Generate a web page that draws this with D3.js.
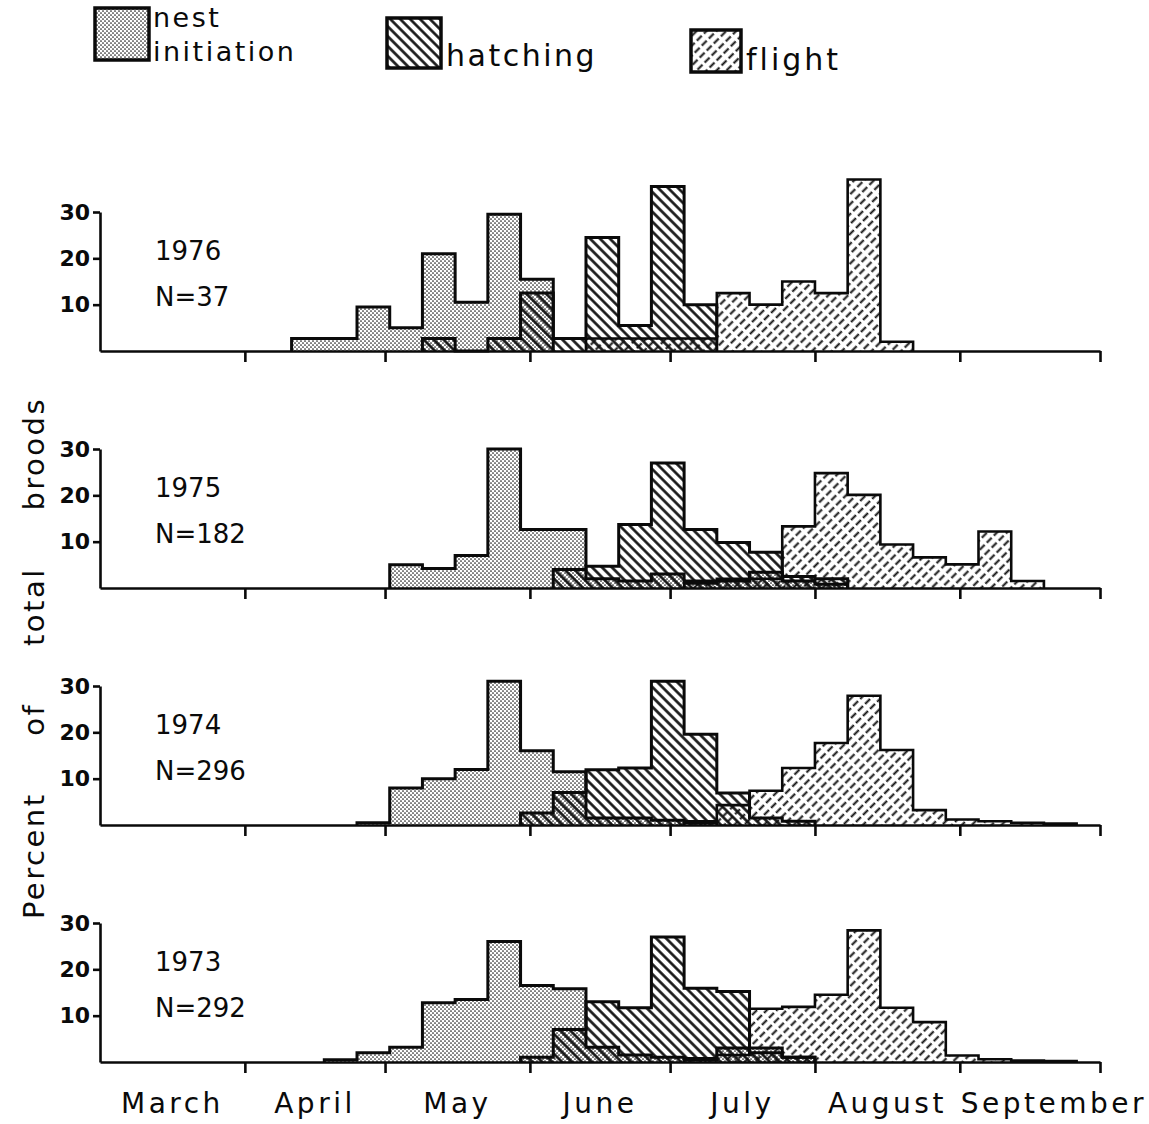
<!DOCTYPE html>
<html>
<head>
<meta charset="utf-8">
<script src="https://cdn.jsdelivr.net/npm/d3@7"></script>
<style>
  html, body { margin: 0; padding: 0; background: #ffffff; }
  svg { display: block; }
</style>
</head>
<body>
<svg id="chart" width="1149" height="1124"></svg>
<script>
// ---- data -------------------------------------------------------------
const months = ["March", "April", "May", "June", "July", "August", "September"];
const monthStarts = ["03-01", "04-01", "05-01", "06-01", "07-01", "08-01", "09-01", "10-01"];

// weekly bins (start date of each week)
const weekStarts = [
  "03-21", "03-28", "04-04", "04-11", "04-18", "04-25", "05-02", "05-09",
  "05-16", "05-23", "05-30", "06-06", "06-13", "06-20", "06-27", "07-04",
  "07-11", "07-18", "07-25", "08-01", "08-08", "08-15", "08-22", "08-29",
  "09-05", "09-12", "09-19", "09-26"
];

const years = ["1976", "1975", "1974", "1973"];
const broodCounts = [37, 182, 296, 292];
const seriesNames = ["nest initiation", "hatching", "flight"];
const yTicks = [10, 20, 30];

// percent of total broods per week
const nest1976   = [0,0,0,2.7,2.7,9.5,5,21,10.5,29.5,15.5,0,0,0,0,0,0,0,0,0,0,0,0,0,0,0,0,0];
const hatch1976  = [0,0,0,0,0,0,0,2.7,0,2.7,12.5,2.7,24.5,5.5,35.5,10,0,0,0,0,0,0,0,0,0,0,0,0];
const flight1976 = [0,0,0,0,0,0,0,0,0,0,0,0,2.7,2.7,2.7,2.7,12.5,10,15,12.5,37,2,0,0,0,0,0,0];

const nest1975   = [0,0,0,0,0,0,5,4.2,7,30,12.6,12.6,2,1.5,3,1.5,1.5,3.4,1.5,0.8,0,0,0,0,0,0,0,0];
const hatch1975  = [0,0,0,0,0,0,0,0,0,0,0,4,4.7,13.7,27,12.6,9.8,7.7,2.5,2,0,0,0,0,0,0,0,0];
const flight1975 = [0,0,0,0,0,0,0,0,0,0,0,0,0,0,0,1,2,2,13.3,24.8,20.1,9.4,6.6,5.1,12.2,1.5,0,0];

const nest1974   = [0,0,0,0,0,0.5,8,10,12,31,16,11.5,1.5,1.5,1,0.5,0,0,0,0,0,0,0,0,0,0,0,0];
const hatch1974  = [0,0,0,0,0,0,0,0,0,0,2.6,7,11.9,12.3,31,19.6,6.9,1.5,0.8,0,0,0,0,0,0,0,0,0];
const flight1974 = [0,0,0,0,0,0,0,0,0,0,0,0,0,0,0,0.8,4.3,7.4,12.3,17.7,27.9,16.2,3.2,1.2,0.8,0.5,0.3,0];

const nest1973   = [0,0,0,0,0.5,2,3.2,12.8,13.5,26,16.5,15.8,3.2,1.5,1,0.5,3,3,1,0,0,0,0,0,0,0,0,0];
const hatch1973  = [0,0,0,0,0,0,0,0,0,0,1,7,13,11.7,27,15.9,15.2,2,1,0,0,0,0,0,0,0,0,0];
const flight1973 = [0,0,0,0,0,0,0,0,0,0,0,0,0,0,0,0.8,1.5,11.5,11.9,14.5,28.4,11.7,8.6,1.4,0.6,0.3,0.2,0];

const panels = [
  { year: years[0], n: broodCounts[0], series: [nest1976, hatch1976, flight1976] },
  { year: years[1], n: broodCounts[1], series: [nest1975, hatch1975, flight1975] },
  { year: years[2], n: broodCounts[2], series: [nest1974, hatch1974, flight1974] },
  { year: years[3], n: broodCounts[3], series: [nest1973, hatch1973, flight1973] }
];

// ---- helpers ----------------------------------------------------------
const season0 = new Date(1975, 2, 1);
function dayOf(mmdd) {
  const [m, d] = mmdd.split("-").map(Number);
  return d3.timeDay.count(season0, new Date(1975, m - 1, d));
}
const monthDays = monthStarts.map(dayOf);
const weekDays = weekStarts.map(dayOf);
const binWidth = 7;

// ---- layout -----------------------------------------------------------
const svg = d3.select("#chart");
const W = 1149, H = 1124;
const left = 100, right = 1100;
const panelTop0 = 212, panelStep = 237, panelH = 139;

const x = d3.scaleLinear()
  .domain([monthDays[0], monthDays[monthDays.length - 1]])
  .range([left, right]);

svg.append("rect").attr("width", W).attr("height", H).attr("fill", "#ffffff");

// ---- fill patterns ----------------------------------------------------
const defs = svg.append("defs");
const patternIds = ["stipple", "hatchBack", "hatchFwd"];

const pStip = defs.append("pattern")
  .attr("id", patternIds[0])
  .attr("patternUnits", "userSpaceOnUse")
  .attr("width", 4).attr("height", 4);
[[1, 1], [3, 3]].forEach(([cx, cy]) =>
  pStip.append("circle").attr("cx", cx).attr("cy", cy).attr("r", 0.85).attr("fill", "#1b1b1b"));

const pBack = defs.append("pattern")
  .attr("id", patternIds[1])
  .attr("patternUnits", "userSpaceOnUse")
  .attr("width", 7).attr("height", 7)
  .attr("patternTransform", "rotate(-45)");
pBack.append("line")
  .attr("x1", 3.5).attr("y1", 0).attr("x2", 3.5).attr("y2", 7)
  .attr("stroke", "#111").attr("stroke-width", 2.6);

const pFwd = defs.append("pattern")
  .attr("id", patternIds[2])
  .attr("patternUnits", "userSpaceOnUse")
  .attr("width", 7).attr("height", 10)
  .attr("patternTransform", "rotate(45)");
pFwd.append("line")
  .attr("x1", 3.5).attr("y1", 0).attr("x2", 3.5).attr("y2", 10)
  .attr("stroke", "#111").attr("stroke-width", 2)
  .attr("stroke-dasharray", "6 3");

// ---- panels -----------------------------------------------------------
const fontMain = "'DejaVu Sans', 'Noto Sans', sans-serif";

panels.forEach((p, i) => {
  const top = panelTop0 + i * panelStep;
  const y = d3.scaleLinear().domain([0, 30]).range([top + panelH, top]);
  const g = svg.append("g");

  const areaGen = d3.area()
    .x(d => x(d[0])).y0(y(0)).y1(d => y(d[1]))
    .curve(d3.curveStepAfter);
  const lineGen = d3.line()
    .x(d => x(d[0])).y(d => y(d[1]))
    .curve(d3.curveStepAfter);

  const shapes = p.series.map(vals => {
    const idx = vals.map((v, k) => (v > 0 ? k : -1)).filter(k => k >= 0);
    const first = idx[0], last = idx[idx.length - 1];
    const pts = [];
    for (let k = first; k <= last; k++) pts.push([weekDays[k], vals[k]]);
    pts.push([weekDays[last] + binWidth, vals[last]]);
    const outline = [[weekDays[first], 0], ...pts, [weekDays[last] + binWidth, 0]];
    return { pts, outline };
  });

  // pattern fills first, so the outlines stay on top
  shapes.forEach((s, k) => {
    g.append("path")
      .attr("d", areaGen(s.pts))
      .attr("fill", `url(#${patternIds[k]})`)
      .attr("stroke", "none");
  });
  shapes.forEach((s, k) => {
    g.append("path")
      .attr("d", lineGen(s.outline))
      .attr("fill", "none")
      .attr("stroke", "#0a0a0a")
      .attr("stroke-width", k === 2 ? 2.6 : 3)
      .attr("stroke-linejoin", "miter");
  });

  // x axis: month boundaries
  const xAxis = d3.axisBottom(x)
    .tickValues(monthDays.slice(1))
    .tickSize(11).tickSizeOuter(0)
    .tickFormat("");
  const gx = g.append("g")
    .attr("transform", `translate(0,${y(0)})`)
    .call(xAxis);
  gx.selectAll("path, line").attr("stroke", "#0a0a0a").attr("stroke-width", 2.6);

  // y axis
  const yAxis = d3.axisLeft(y)
    .tickValues(yTicks)
    .tickSize(7).tickSizeOuter(0).tickPadding(3);
  const gy = g.append("g")
    .attr("transform", `translate(${left},0)`)
    .call(yAxis);
  gy.selectAll("path, line").attr("stroke", "#0a0a0a").attr("stroke-width", 2.6);
  gy.selectAll("text")
    .attr("font-family", fontMain)
    .attr("font-weight", "bold")
    .attr("font-size", 22)
    .attr("fill", "#0a0a0a");

  // year and sample size
  g.append("text")
    .attr("x", 155).attr("y", top + 48)
    .attr("font-family", fontMain).attr("font-size", 26)
    .attr("fill", "#0a0a0a")
    .text(p.year);
  g.append("text")
    .attr("x", 155).attr("y", top + 94)
    .attr("font-family", fontMain).attr("font-size", 26)
    .attr("fill", "#0a0a0a")
    .text(`N=${p.n}`);
});

// ---- month labels under the bottom panel ------------------------------
const monthLabelY = 1113;
months.forEach((m, k) => {
  const t = svg.append("text")
    .attr("y", monthLabelY)
    .attr("font-family", fontMain)
    .attr("font-size", 28)
    .attr("letter-spacing", 3.5)
    .attr("text-anchor", "middle")
    .attr("fill", "#0a0a0a")
    .text(m);
  const w = t.node().getComputedTextLength();
  const x0 = x(monthDays[k]), x1 = x(monthDays[k + 1]);
  const cx = Math.max((x0 + x1) / 2, x0 + w / 2 + 1);
  t.attr("x", cx);
});

// ---- y title -----------------------------------------------------------
svg.append("text")
  .attr("transform", "translate(44,658) rotate(-90)")
  .attr("text-anchor", "middle")
  .attr("font-family", fontMain)
  .attr("font-size", 29)
  .attr("letter-spacing", 2.5)
  .attr("word-spacing", 45)
  .attr("fill", "#0a0a0a")
  .text("Percent of total broods");

// ---- legend -------------------------------------------------------------
const legendItems = [
  { box: [95, 8, 54, 52], lines: ["nest", "initiation"], tx: 153, ty: [27, 61], size: 27, spacing: 2.5 },
  { box: [387, 18, 54, 50], lines: ["hatching"], tx: 446, ty: [66], size: 30, spacing: 2.5 },
  { box: [691, 30, 50, 42], lines: ["flight"], tx: 746, ty: [70], size: 30, spacing: 3 }
];
legendItems.forEach((it, k) => {
  svg.append("rect")
    .attr("x", it.box[0]).attr("y", it.box[1])
    .attr("width", it.box[2]).attr("height", it.box[3])
    .attr("fill", `url(#${patternIds[k]})`)
    .attr("stroke", "#0a0a0a").attr("stroke-width", 3.5);
  it.lines.forEach((ln, j) => {
    svg.append("text")
      .attr("x", it.tx).attr("y", it.ty[j])
      .attr("font-family", fontMain)
      .attr("font-size", it.size)
      .attr("letter-spacing", it.spacing)
      .attr("fill", "#0a0a0a")
      .text(ln);
  });
});
</script>
</body>
</html>
